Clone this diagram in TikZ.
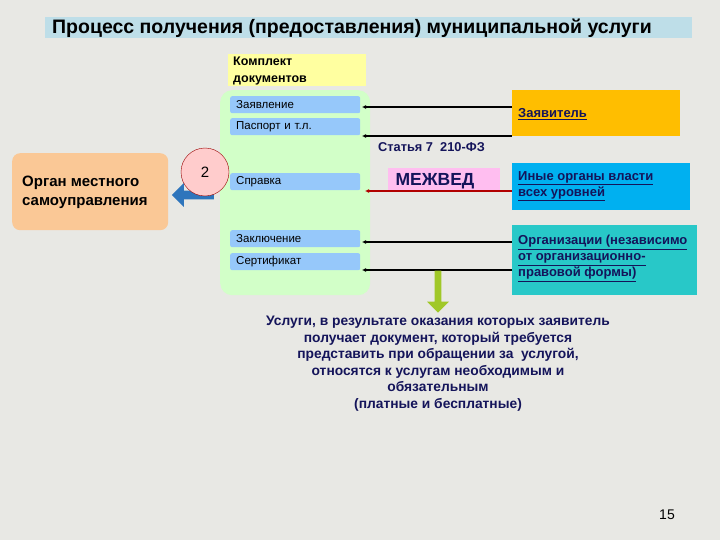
\documentclass[tikz,border=0pt]{standalone}
\usepackage{fontspec}
\setmainfont{Liberation Sans}
\usetikzlibrary{arrows.meta,shapes.arrows}
\definecolor{bg}{RGB}{232,232,228}
\definecolor{titlebg}{RGB}{190,222,232}
\definecolor{yel}{RGB}{255,255,160}
\definecolor{grn}{RGB}{210,255,200}
\definecolor{sb}{RGB}{150,200,250}
\definecolor{org}{RGB}{255,190,0}
\definecolor{peach}{RGB}{250,200,150}
\definecolor{cyanb}{RGB}{0,176,240}
\definecolor{teal}{RGB}{40,200,200}
\definecolor{pinkb}{RGB}{255,190,240}
\definecolor{navy}{RGB}{20,20,90}
\definecolor{lime}{RGB}{160,200,40}
\begin{document}
\begin{tikzpicture}[x=1pt,y=-1pt,
  doc/.style={fill=sb,rounded corners=2pt,font=\fontsize{11.5}{12}\selectfont},
  src/.style={font=\fontsize{13}{16}\selectfont\bfseries,text=navy},
  ar/.style={-{Latex[length=4pt,width=4pt]},line width=1.6pt}]
\fill[bg] (0,0) rectangle (720,540);
\useasboundingbox (0,0) rectangle (720,540);
\node[fill=titlebg,minimum width=647,minimum height=21,anchor=north west,inner sep=0] (title) at (45,17) {};
\node[font=\fontsize{19.5}{20}\selectfont\bfseries,anchor=west,inner sep=0] (tt) at (52,28) {Процесс получения (предоставления) муниципальной услуги};
\node[fill=yel,minimum width=138,minimum height=32,anchor=north west,inner sep=0] (kit) at (228,54) {};
\node[font=\fontsize{12.5}{17}\selectfont\bfseries,align=left,anchor=north west,inner sep=0] (kitt) at (233,57) {Комплект\\документов};
\node[fill=grn,rounded corners=12pt,minimum width=150,minimum height=205,anchor=north west,inner sep=0] (green) at (220,90) {};
\foreach \n/\t/\y in {d1/Заявление/96,d2/Паспорт и т.л./118,d3/Справка/173,d4/Заключение/230,d5/Сертификат/253}
  \node[doc,minimum width=130,minimum height=17,anchor=north west,inner sep=0,text width=130,align=left] (\n) at (230,\y) {\hspace*{6pt}\t};
\node[fill=org,minimum width=168,minimum height=46,anchor=north west,inner sep=0] (zv) at (512,90) {};
\node[src,anchor=west,inner sep=0] at (518,114) {\underline{Заявитель}};
\node[fill=cyanb,minimum width=178,minimum height=47,anchor=north west,inner sep=0] (io) at (512,163) {};
\node[src,anchor=north west,align=left,inner sep=0] at (518,171) {\underline{Иные органы власти}\\\underline{всех уровней}};
\node[fill=teal,minimum width=185,minimum height=70,anchor=north west,inner sep=0] (org) at (512,225) {};
\node[src,anchor=north west,align=left,inner sep=0] at (518,235) {\underline{Организации (независимо}\\\underline{от организационно-}\\\underline{правовой формы)}};
\node[fill=pinkb,minimum width=112,minimum height=22,anchor=north west,inner sep=0] (mv) at (388,168) {};
\node[font=\fontsize{17.5}{18}\selectfont\bfseries,text=navy] at (435,181) {МЕЖВЕД};
\node[src,font=\fontsize{12.8}{14}\selectfont\bfseries,anchor=west,inner sep=0] (st) at (378,147) {Статья 7\ \ 210-ФЗ};
\node[fill=peach,rounded corners=8pt,minimum width=156,minimum height=77,anchor=north west,inner sep=0] (om) at (12,153) {};
\node[font=\fontsize{15}{19}\selectfont\bfseries,align=left,anchor=west,inner sep=0] at (22,192) {Орган местного\\самоуправления};
\node[single arrow,fill=blue!50!cyan!70!black,fill opacity=0.8,shape border rotate=180,minimum height=42,minimum width=24,single arrow head extend=4pt,inner sep=2pt] (ba) at (195,195) {};
\node[circle,draw=red!60!black,fill=red!20,minimum size=48,font=\fontsize{15}{16}\selectfont] (c2) at (205,172) {2};
\coordinate (a1) at (512,107); \coordinate (a2) at (512,136);
\coordinate (a4) at (512,242); \coordinate (a5) at (512,270);
\draw[ar] (a1) -- (362,107);
\draw[ar] (a2) -- (362,136);
\draw[ar,red!70!black] (512,191) -- (365,191);
\draw[ar] (a4) -- (362,242);
\draw[ar] (a5) -- (362,270);
\node[single arrow,fill=lime,shape border rotate=270,minimum height=42,minimum width=22,single arrow head extend=5pt,inner sep=2pt] (ga) at (438,290) {};
\node[font=\fontsize{13.8}{16.5}\selectfont\bfseries,text=navy,align=center,anchor=north,inner sep=0] (txt) at (438,316) {Услуги, в результате оказания которых заявитель\\получает документ, который требуется\\представить при обращении за\ \ услугой,\\относятся к услугам необходимым и\\обязательным\\(платные и бесплатные)};
\node[font=\fontsize{14}{15}\selectfont] (pg) at (667,515) {15};
\end{tikzpicture}
\end{document}
